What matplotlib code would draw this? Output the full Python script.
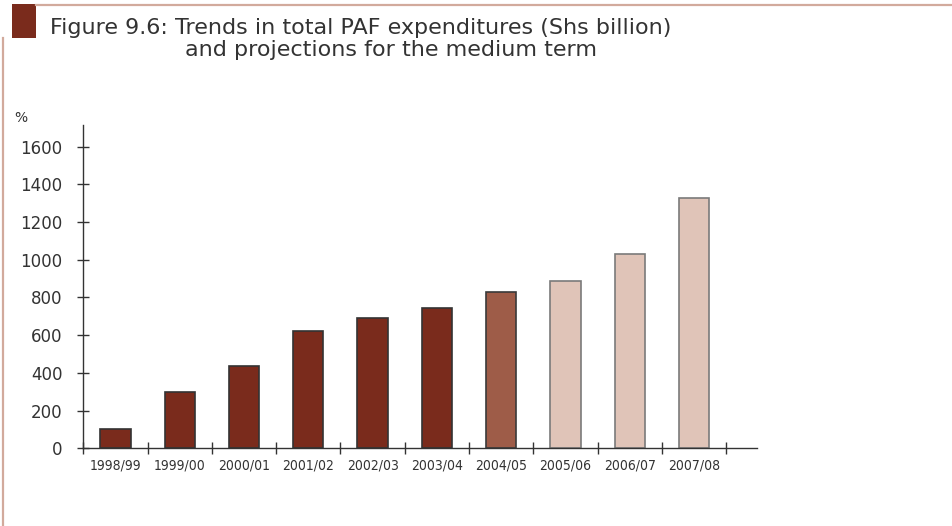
import numpy as np
import matplotlib.pyplot as plt
from matplotlib.patches import Rectangle
from matplotlib.lines import Line2D

# PAF expenditure, Shs billion
years = ['1998/99', '1999/00', '2000/01', '2001/02', '2002/03',
         '2003/04', '2004/05', '2005/06', '2006/07', '2007/08']
paf = [100, 300, 435, 620, 690, 745, 830, 890, 1030, 1330]
# 0 = outturn, 1 = estimate, 2 = projection
status = [0, 0, 0, 0, 0, 0, 1, 2, 2, 2]

fills = ['#7a2b1c', '#9e5c48', '#e0c4b8']
edges = ['#333333', '#3a3a3a', '#7a7a7a']

fig = plt.figure(figsize=(9.53, 5.26), dpi=100)

# frame lines and red square of the figure heading
frame = '#d2aa9c'
fig.add_artist(Line2D([36 / 953, 1], [1 - 5 / 526] * 2, color=frame, lw=1.6))
fig.add_artist(Line2D([3.5 / 953] * 2, [0, 1 - 38 / 526], color=frame, lw=1.6))
fig.add_artist(Rectangle((12 / 953, 1 - 38 / 526), 24 / 953, 34 / 526,
                         transform=fig.transFigure, color='#7a2b1c', lw=0))

fig.text(50 / 953, 1 - 28 / 526,
         'Figure 9.6: Trends in total PAF expenditures (Shs billion)',
         fontsize=16, color='#333333', va='center', ha='left')
fig.text(185 / 953, 1 - 50 / 526, 'and projections for the medium term',
         fontsize=16, color='#333333', va='center', ha='left')
fig.text(14 / 953, 1 - 118 / 526, '%', fontsize=10, color='#333333',
         va='center', ha='left')

ax = fig.add_axes([83.3 / 953, 1 - 448.3 / 526,
                   (757 - 83.3) / 953, (448.3 - 125) / 526])

x = np.arange(len(years))
ax.bar(x, paf, width=0.47,
       color=[fills[s] for s in status],
       edgecolor=[edges[s] for s in status], linewidth=1.2)

ax.set_xlim(-0.5, 9.98)
ax.set_ylim(0, 1715)

for s in ['top', 'right']:
    ax.spines[s].set_visible(False)
for s in ['left', 'bottom']:
    ax.spines[s].set_color('#333333')
    ax.spines[s].set_linewidth(1.0)

ax.set_yticks(np.arange(0, 1601, 200))
ax.tick_params(axis='y', direction='inout', length=8, width=1,
               color='#333333', labelsize=12, labelcolor='#333333', pad=11)

# category boundaries as ticks, labels centred under the bars
ax.set_xticks(np.arange(-0.5, 10, 1.0))
ax.set_xticklabels([])
ax.tick_params(axis='x', which='major', direction='inout', length=9,
               width=1, color='#333333')
ax.set_xticks(x, minor=True)
ax.set_xticklabels(years, minor=True, fontsize=10, color='#333333',
                   fontstretch='condensed')
ax.tick_params(axis='x', which='minor', length=0, pad=7)

fig.savefig('out.png', dpi=100)
